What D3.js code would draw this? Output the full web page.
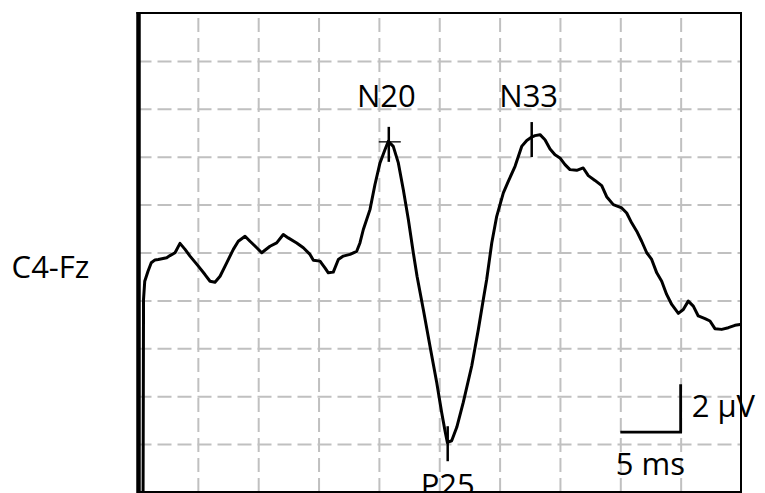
<!DOCTYPE html>
<html>
<head>
<meta charset="utf-8">
<script src="https://cdn.jsdelivr.net/npm/d3@7"></script>
<style>
  html, body { margin: 0; padding: 0; background: #fff; }
  svg { display: block; }
  text { font-family: "Open Sans", "DejaVu Sans", sans-serif; fill: #000; }
</style>
</head>
<body>
<svg id="chart" width="765" height="493"></svg>
<script>
// ---- Data (latency in ms, amplitude in µV, negative plotted upward) ----
const timeMs = [0.46,0.50,0.60,0.87,1.14,1.45,1.72,2.42,2.69,3.11,3.52,3.94,4.35,5.04,5.59,6.01,6.42,6.84,7.39,7.94,
  8.35,8.91,9.32,9.88,10.29,10.98,11.53,12.08,12.49,13.19,13.74,14.29,14.57,15.12,15.53,15.81,16.22,16.64,17.05,17.61,
  18.16,18.43,18.71,19.26,19.67,20.09,20.50,20.78,21.19,21.61,22.02,22.44,22.85,23.16,23.68,24.23,24.79,25.20,25.48,25.67,
  26.03,26.45,26.99,27.69,28.24,28.65,28.93,29.35,29.76,30.31,30.72,31.28,31.83,32.25,32.66,32.93,33.35,33.76,34.18,34.59,
  35.00,35.42,35.83,36.39,36.93,37.35,37.90,38.46,38.87,39.42,40.12,40.53,40.94,41.36,41.77,42.19,42.60,43.02,43.43,43.84,
  44.26,44.81,45.22,45.63,46.05,46.46,47.02,47.43,47.84,48.40,48.95,49.50,49.92];
const amplitudeUv = [10.3,1.96,1.20,0.78,0.43,0.31,0.29,0.22,0.13,0.01,-0.38,-0.13,0.15,0.57,0.92,1.20,1.24,0.99,0.43,-0.13,
  -0.47,-0.68,-0.47,-0.20,0.01,-0.26,-0.40,-0.75,-0.61,-0.40,-0.20,0.08,0.32,0.36,0.64,0.85,0.82,0.29,0.15,0.08,
  -0.05,-0.40,-0.96,-1.79,-2.83,-3.74,-4.29,-4.64,-4.43,-3.74,-2.63,-1.38,0.01,0.99,2.38,3.90,5.43,6.68,7.45,7.93,
  7.86,7.30,6.26,4.74,3.21,1.96,1.13,-0.40,-1.51,-2.49,-2.97,-3.60,-4.43,-4.68,-4.82,-4.88,-4.92,-4.71,-4.32,-4.08,
  -3.95,-3.67,-3.46,-3.43,-3.53,-3.21,-3.01,-2.79,-2.33,-2.00,-1.86,-1.65,-1.24,-0.89,-0.47,0.01,0.29,0.85,1.20,1.75,
  2.17,2.54,2.38,2.03,2.24,2.65,2.76,2.86,3.18,3.21,3.14,3.04,3.01];

const peakNames = ["N20", "N33", "P25"];
const peakLatency = [20.82, 32.66, 25.70];
const peakAmplitude = [-4.62, -4.82, 7.88];

const gridTimeTicks = [5,10,15,20,25,30,35,40,45];
const gridAmpTicks = [-8,-6,-4,-2,0,2,4,6,8];

const channelLabel = "C4-Fz";
const scaleBarMs = 5;
const scaleBarUv = 2;
const scaleBarTimeLabel = "5 ms";
const scaleBarAmpLabel = "2 μV";

// ---- Layout ----
const pLeft = 137.5, pRight = 741, pTop = 13, pBottom = 492;
const svg = d3.select("#chart");

const x = d3.scaleLinear().domain([0, 50]).range([pLeft, pRight]);
const y = d3.scaleLinear().domain([-10, 10]).range([pTop, pBottom]);

svg.append("rect").attr("width", 765).attr("height", 493).attr("fill", "#fff");

// grid via axes
const gx = svg.append("g").attr("transform", `translate(0,${pBottom})`)
  .call(d3.axisBottom(x).tickValues(gridTimeTicks).tickSize(-(pBottom - pTop)).tickFormat(""));
const gy = svg.append("g").attr("transform", `translate(${pLeft},0)`)
  .call(d3.axisLeft(y).tickValues(gridAmpTicks).tickSize(-(pRight - pLeft)).tickFormat(""));
[gx, gy].forEach(g => {
  g.select(".domain").remove();
  g.selectAll(".tick line").attr("stroke", "#c0c0c0").attr("stroke-width", 2)
    .attr("stroke-dasharray", "14,6");
});

// clip
svg.append("clipPath").attr("id", "plotclip").append("rect")
  .attr("x", pLeft).attr("y", pTop).attr("width", pRight - pLeft).attr("height", pBottom - pTop);

// frame
svg.append("line").attr("x1", pLeft - 1).attr("x2", pRight + 1).attr("y1", pTop).attr("y2", pTop)
  .attr("stroke", "#000").attr("stroke-width", 2);
svg.append("line").attr("x1", pRight).attr("x2", pRight).attr("y1", pTop).attr("y2", pBottom + 1)
  .attr("stroke", "#000").attr("stroke-width", 2);
svg.append("line").attr("x1", pLeft).attr("x2", pRight + 1).attr("y1", pBottom).attr("y2", pBottom)
  .attr("stroke", "#000").attr("stroke-width", 2);
svg.append("line").attr("x1", pLeft + 1).attr("x2", pLeft + 1).attr("y1", pTop - 1).attr("y2", 493)
  .attr("stroke", "#000").attr("stroke-width", 4.5);

// trace
const pts = timeMs.map((t, i) => [t, amplitudeUv[i]]);
const line = d3.line().x(d => x(d[0])).y(d => y(d[1])).curve(d3.curveLinear);
svg.append("path").attr("clip-path", "url(#plotclip)")
  .attr("d", line(pts)).attr("fill", "none").attr("stroke", "#000")
  .attr("stroke-width", 3).attr("stroke-linejoin", "round").attr("stroke-linecap", "round");

// peak markers + labels
peakNames.forEach((name, i) => {
  const px = x(peakLatency[i]), py = y(peakAmplitude[i]);
  svg.append("line").attr("x1", px).attr("x2", px).attr("y1", py - 15).attr("y2", py + 20)
    .attr("stroke", "#000").attr("stroke-width", 2.5);
  if (name === "N20") {
    svg.append("line").attr("x1", px - 10).attr("x2", px + 12).attr("y1", py).attr("y2", py)
      .attr("stroke", "#000").attr("stroke-width", 1.3);
  }
  const isNeg = peakAmplitude[i] < 0;
  svg.append("text").attr("x", px - (name === "N20" ? 2.5 : (name === "N33" ? 3 : 0)))
    .attr("y", isNeg ? y(-6.08) : pBottom + 3.5)
    .attr("text-anchor", "middle").attr("font-size", 31).text(name);
});

// channel label
svg.append("text").attr("x", 50.5).attr("y", 277.5).attr("text-anchor", "middle")
  .attr("font-size", 31).text(channelLabel);

// scale bar
const sb0 = 40, sbV = 7.5;
svg.append("path")
  .attr("d", d3.line()([[x(sb0), y(sbV)], [x(sb0 + scaleBarMs), y(sbV)], [x(sb0 + scaleBarMs), y(sbV - scaleBarUv)]]))
  .attr("fill", "none").attr("stroke", "#000").attr("stroke-width", 2.8);
svg.append("text").attr("x", x(sb0 + scaleBarMs / 2)).attr("y", 475).attr("text-anchor", "middle")
  .attr("font-size", 31).text(scaleBarTimeLabel);
svg.append("text").attr("x", x(sb0 + scaleBarMs) + 11).attr("y", 416.5).attr("text-anchor", "start")
  .attr("font-size", 31).text(scaleBarAmpLabel);
</script>
</body>
</html>
